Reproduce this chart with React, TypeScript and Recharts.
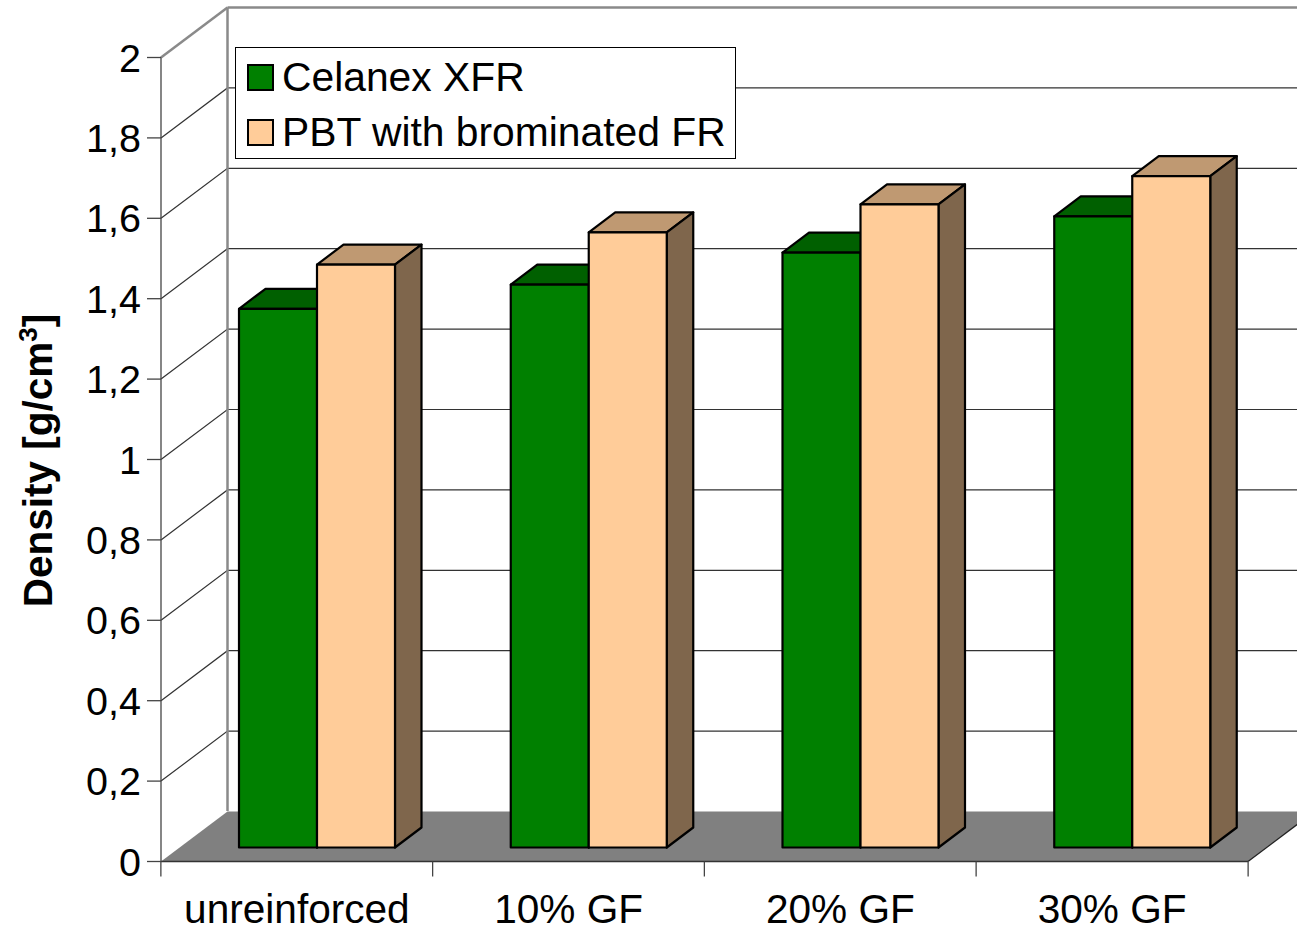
import { BarChart, Bar, CartesianGrid, XAxis, YAxis, Legend, Label } from 'recharts';

const categories = ['unreinforced', '10% GF', '20% GF', '30% GF'];
const celanex = [1.34, 1.4, 1.48, 1.57];
const pbt = [1.45, 1.53, 1.6, 1.67];
const yTicks = [0, 0.2, 0.4, 0.6, 0.8, 1, 1.2, 1.4, 1.6, 1.8, 2];

const data = categories.map((name, i) => ({ name, celanex: celanex[i], pbt: pbt[i] }));

const FONT = '"Liberation Sans", Arial, sans-serif';
const WALL_DX = 66.5;
const WALL_DY = -50;
const BAR_DX = 20;
const BAR_DY = -14;
const DEPTH_DX = 26.5;
const DEPTH_DY = -20;

// grid line that runs along the left wall and then the back wall
function WallLine(props: any) {
  const { x1, x2, y1, index } = props;
  const backX = x1 + WALL_DX;
  const backY = y1 + WALL_DY;
  const isTop = index === yTicks.length - 1;
  const isBottom = index === 0;
  if (isBottom) {
    return (
      <g>
        <polygon points={`${x1},${y1} ${backX},${backY} ${x2 + WALL_DX},${backY} ${x2},${y1}`} fill="#808080" />
        <line x1={x2} y1={y1} x2={x2 + WALL_DX} y2={backY} stroke="#222" strokeWidth={1.3} />
      </g>
    );
  }
  if (isTop) {
    return (
      <g fill="none" stroke="#8a8a8a" strokeWidth={2.5}>
        <line x1={x1} y1={y1} x2={backX} y2={backY} />
        <line x1={backX} y1={backY} x2={x2 + WALL_DX} y2={backY} />
        <line x1={backX} y1={backY} x2={backX} y2={backY + 803.5} />
      </g>
    );
  }
  return (
    <polyline
      points={`${x1},${y1} ${backX},${backY} ${x2 + WALL_DX},${backY}`}
      fill="none"
      stroke="#333"
      strokeWidth={1.2}
    />
  );
}

function Box(props: any) {
  const { x, y, width, height, fill, topFill, sideFill } = props;
  const l = x + BAR_DX;
  const r = l + width;
  const t = y + BAR_DY;
  const b = t + height;
  return (
    <g stroke="#000" strokeWidth={2.2} strokeLinejoin="round">
      <polygon
        points={`${l},${t} ${l + DEPTH_DX},${t + DEPTH_DY} ${r + DEPTH_DX},${t + DEPTH_DY} ${r},${t}`}
        fill={topFill}
      />
      <polygon
        points={`${r},${t} ${r + DEPTH_DX},${t + DEPTH_DY} ${r + DEPTH_DX},${b + DEPTH_DY} ${r},${b}`}
        fill={sideFill}
      />
      <rect x={l} y={t} width={width} height={height} fill={fill} />
    </g>
  );
}

function CategoryTick(props: any) {
  const { x, y, payload, index } = props;
  const half = 136;
  return (
    <g>
      <line x1={x - half} y1={y} x2={x - half} y2={y + 15} stroke="#444" strokeWidth={1.3} />
      {index === categories.length - 1 && (
        <line x1={x + half} y1={y} x2={x + half} y2={y + 15} stroke="#444" strokeWidth={1.3} />
      )}
      <text x={x} y={y + 61} textAnchor="middle" fontFamily={FONT} fontSize={40.6} fill="#000">
        {payload.value}
      </text>
    </g>
  );
}

function LegendBox({ payload }: any) {
  return (
    <div
      style={{
        boxSizing: 'border-box',
        width: 501,
        height: 112,
        background: '#fff',
        border: '1.5px solid #000',
        fontFamily: FONT,
        fontSize: 40.8,
        color: '#000',
        paddingTop: 2,
      }}
    >
      {(payload || []).map((item: any) => (
        <div key={item.value} style={{ display: 'flex', alignItems: 'center', height: 55, paddingLeft: 11 }}>
          <span
            style={{
              display: 'inline-block',
              boxSizing: 'border-box',
              width: 27,
              height: 27,
              background: item.color,
              border: '2px solid #000',
              marginRight: 8,
            }}
          />
          {item.value}
        </div>
      ))}
    </div>
  );
}

function AxisTitle() {
  return (
    <text
      transform="translate(52,460.5) rotate(-90)"
      textAnchor="middle"
      fontFamily={FONT}
      fontSize={40.5}
      fontWeight="bold"
      fill="#000"
    >
      Density [g/cm
      <tspan fontSize={26} dy={-15}>3</tspan>
      <tspan dy={15}>]</tspan>
    </text>
  );
}

export default function App() {
  return (
    <div style={{ position: 'absolute', left: 0, top: 0, width: 1297, height: 930, overflow: 'hidden', background: '#fff' }}>
      <BarChart
        width={1297}
        height={930}
        data={data}
        margin={{ top: 57.5, right: 49, bottom: 0, left: 0 }}
        barCategoryGap={58}
        barGap={0}
      >
        <CartesianGrid vertical={false} horizontal={(p: any) => <WallLine key={p.index} {...p} />} />
        <XAxis
          dataKey="name"
          height={68.5}
          interval={0}
          tickLine={false}
          tickSize={0}
          tickMargin={0}
          tick={CategoryTick}
          axisLine={{ stroke: '#333', strokeWidth: 1.3 }}
        />
        <YAxis
          width={161}
          domain={[0, 2]}
          ticks={yTicks}
          interval={0}
          tickSize={14}
          tickMargin={6}
          tick={{ fontFamily: FONT, fontSize: 39.5, fill: '#000' }}
          tickFormatter={(v: number) => String(v).replace('.', ',')}
          tickLine={{ stroke: '#444', strokeWidth: 1.3 }}
          axisLine={{ stroke: '#444', strokeWidth: 1.3 }}
        >
          <Label content={AxisTitle} />
        </YAxis>
        <Legend
          content={LegendBox}
          layout="horizontal"
          verticalAlign="middle"
          wrapperStyle={{ position: 'absolute', left: 235, top: 47, width: 501, height: 112, bottom: 'auto' }}
        />
        <Bar
          dataKey="celanex"
          name="Celanex XFR"
          fill="#008000"
          isAnimationActive={false}
          shape={(p: any) => <Box {...p} fill="#008000" topFill="#006000" sideFill="#006000" />}
        />
        <Bar
          dataKey="pbt"
          name="PBT with brominated FR"
          fill="#FFCC99"
          isAnimationActive={false}
          shape={(p: any) => <Box {...p} fill="#FFCC99" topFill="#BF9972" sideFill="#7F664C" />}
        />
      </BarChart>
    </div>
  );
}
